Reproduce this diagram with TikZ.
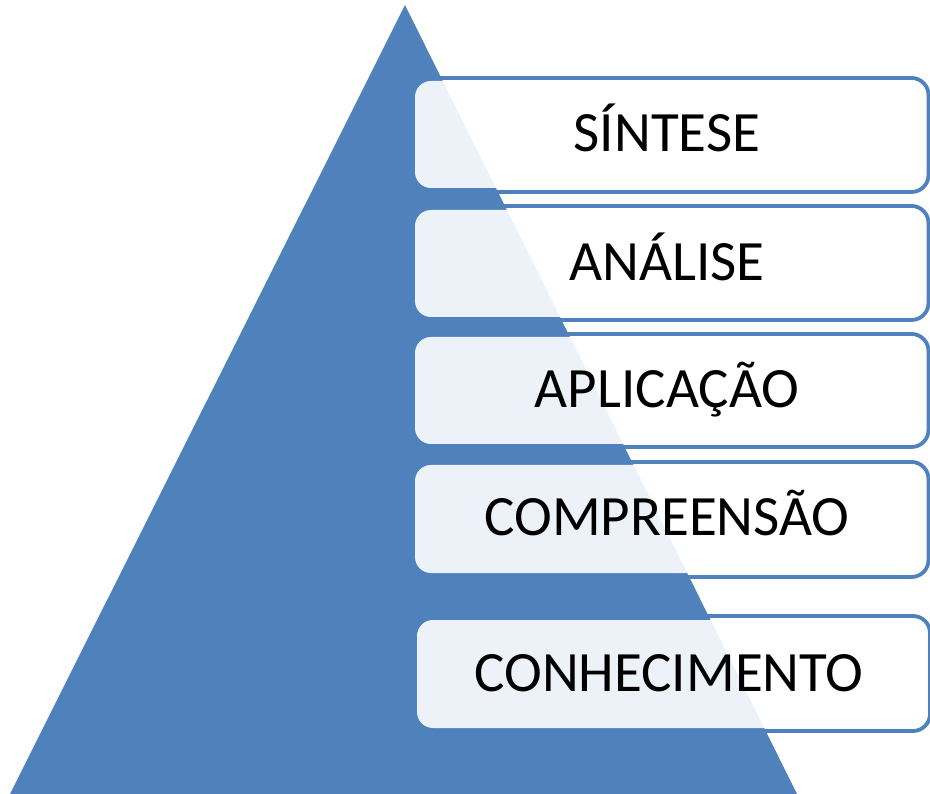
\documentclass[tikz,border=0pt]{standalone}
\usepackage{fontspec}
\setmainfont{Carlito}
\definecolor{accentblue}{RGB}{79,129,189}
\begin{document}
\begin{tikzpicture}[x=1pt,y=-1pt,
  outlinebox/.style={draw=accentblue, line width=3.8pt, rounded corners=17pt},
  levelbox/.style={rectangle, rounded corners=16pt, fill=white, fill opacity=0.9,
    text opacity=1, text=black, inner sep=0pt, minimum width=504pt,
    text height=37pt, text depth=3pt,
    font=\fontsize{57pt}{60pt}\selectfont}]
\useasboundingbox (0,0) rectangle (930,794);
% pyramid
\fill[accentblue] (405,5) -- (797,794) -- (10,794) -- cycle;
% outlines
\draw[outlinebox] (409,78) rectangle (928.5,192);
\draw[outlinebox] (409,206) rectangle (928.5,320);
\draw[outlinebox] (409,334) rectangle (928.5,447);
\draw[outlinebox] (409,462) rectangle (928.5,577);
\draw[outlinebox] (411,616) rectangle (930,731);
% level boxes
\node[levelbox, minimum height=107pt] (sintese) at (667,134.5) {SÍNTESE};
\node[levelbox, minimum height=107pt] (analise) at (667,263.5) {ANÁLISE};
\node[levelbox, minimum height=107pt] (aplicacao) at (667,390.5) {APLICAÇÃO};
\node[levelbox, minimum height=108pt] (compreensao) at (667,519) {COMPREENSÃO};
\node[levelbox, minimum height=108pt] (conhecimento) at (669,674) {CONHECIMENTO};
\end{tikzpicture}
\end{document}
